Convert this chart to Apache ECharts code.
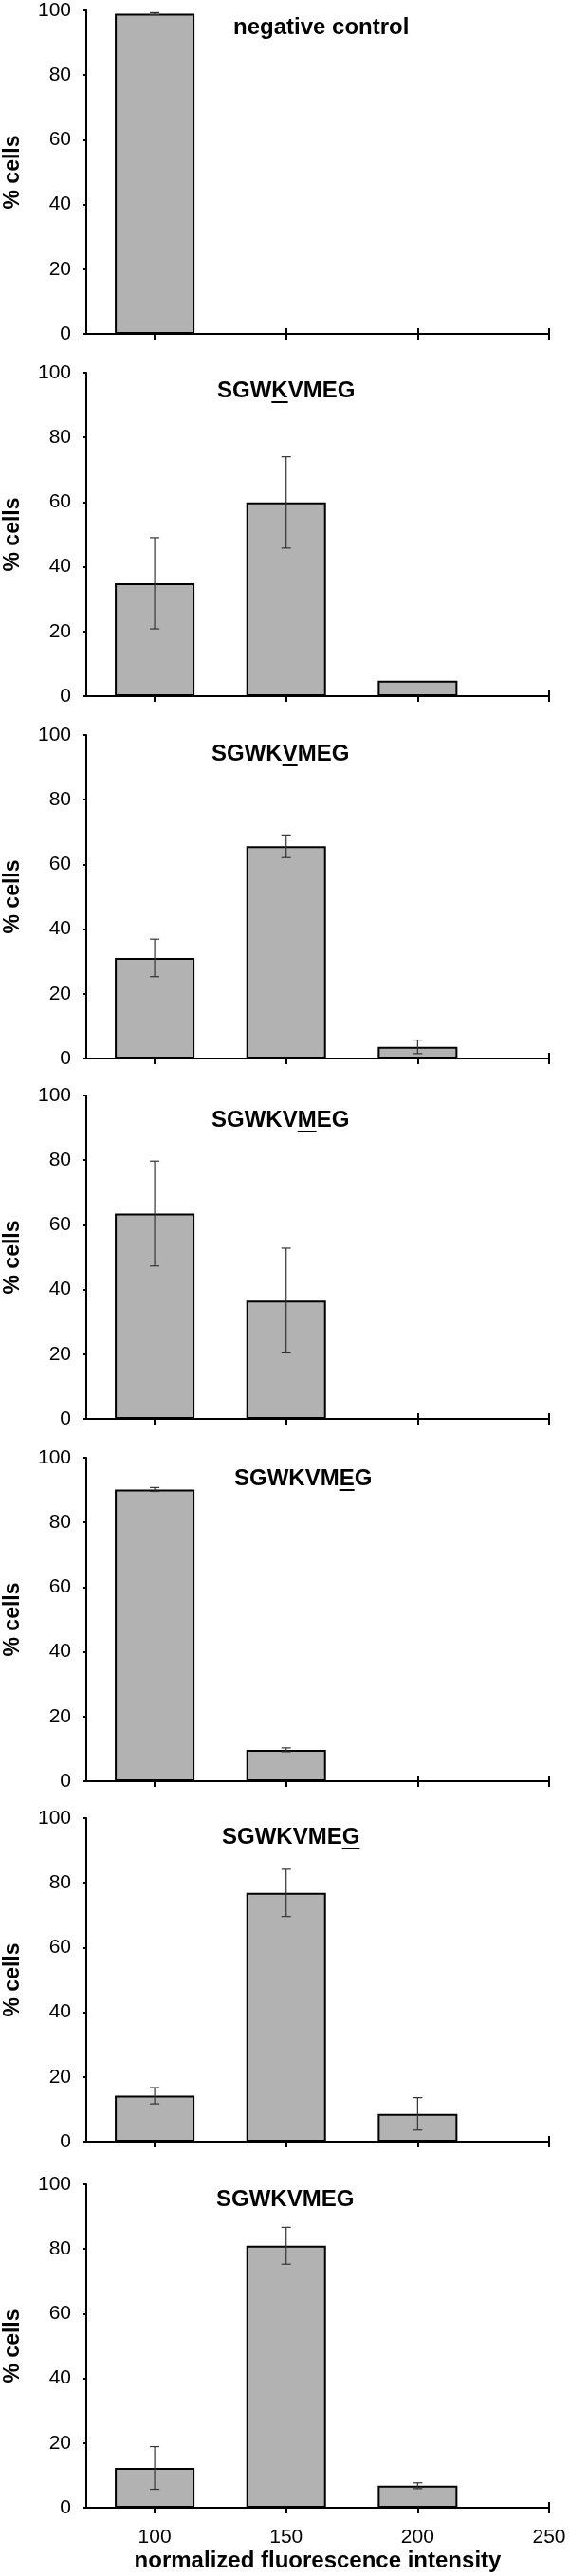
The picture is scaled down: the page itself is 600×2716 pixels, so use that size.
<!DOCTYPE html>
<html>
<head>
<meta charset="utf-8">
<script src="https://cdn.jsdelivr.net/npm/echarts@6/dist/echarts.min.js"></script>
<style>
    html, body { margin: 0; padding: 0; background: #fff; }
    #chart { width: 600px; height: 2716px; }
</style>
</head>
<body>
<div id="chart"></div>
<script>
// bins of normalized fluorescence intensity
const binCenters = [100, 150, 200]
const xTickValues = [100, 150, 200, 250]

// % cells per bin, mean and error (±)
const negativeControl = [99.0, 0, 0]
const negativeControlErr = [0.3, 0, 0]
const mutK = [34.9, 59.9, 4.8]
const mutKErr = [14.1, 14.1, 0]
const mutV = [31.1, 65.6, 3.6]
const mutVErr = [5.8, 3.5, 2.1]
const mutM = [63.5, 36.6, 0]
const mutMErr = [16.2, 16.2, 0]
const mutE = [90.2, 9.7, 0]
const mutEErr = [0.6, 0.6, 0]
const mutG = [14.2, 76.9, 8.6]
const mutGErr = [2.5, 7.3, 5.0]
const wildType = [12.3, 81.0, 6.8]
const wildTypeErr = [6.6, 5.7, 0.9]

const panelTitles = ['negative control', 'SGWKVMEG', 'SGWKVMEG', 'SGWKVMEG', 'SGWKVMEG', 'SGWKVMEG', 'SGWKVMEG']
const underlinedLetter = [-1, 3, 4, 5, 6, 7, -1]
const panelValues = [negativeControl, mutK, mutV, mutM, mutE, mutG, wildType]
const panelErrors = [negativeControlErr, mutKErr, mutVErr, mutMErr, mutEErr, mutGErr, wildTypeErr]

// layout (pixels)
const gridTops = [11, 393, 775, 1155, 1537, 1917, 2303]
const gridHeight = 341
const titleLeft = [246, 229, 223, 223, 247, 234, 228]
const titleCapTop = [20, 403, 786, 1172, 1550, 1928, 2310]

const FONT = '"Liberation Sans", Arial, sans-serif'
const chart = echarts.init(document.getElementById('chart'), null, { renderer: 'canvas' })

const measure = document.createElement('canvas').getContext('2d')
measure.font = 'bold 24px "Liberation Sans"'

const grids = [], xAxes = [], yAxes = [], series = [], graphics = []
const last = panelTitles.length - 1

panelTitles.forEach((title, i) => {
    grids.push({ left: 91, right: 21, top: gridTops[i], height: gridHeight, outerBoundsMode: 'none' })

    // main x axis (outer ticks, labels on the last panel only)
    xAxes.push({
        type: 'value', gridIndex: i, min: 74, max: 250,
        axisLine: { show: true, onZero: false, lineStyle: { color: '#000', width: 2 } },
        axisTick: { show: true, length: 6, customValues: xTickValues, lineStyle: { color: '#000', width: 2 } },
        axisLabel: {
            show: i === last, customValues: xTickValues, margin: 21,
            color: '#000', fontSize: 21, fontFamily: FONT
        },
        splitLine: { show: false },
        name: i === last ? 'normalized fluorescence intensity' : '',
        nameLocation: 'middle', nameGap: 44,
        nameTextStyle: { color: '#000', fontSize: 24, fontWeight: 'bold', fontFamily: FONT }
    })
    // second axis only for the inner half of the crossing ticks
    xAxes.push({
        type: 'value', gridIndex: i, min: 74, max: 250, position: 'bottom',
        axisLine: { show: false },
        axisTick: { show: true, inside: true, length: 6, customValues: xTickValues, lineStyle: { color: '#000', width: 2 } },
        axisLabel: { show: false },
        splitLine: { show: false }
    })

    yAxes.push({
        type: 'value', gridIndex: i, min: 0, max: 100, interval: 20,
        axisLine: { show: true, lineStyle: { color: '#000', width: 2 } },
        axisTick: { show: true, length: 4, lineStyle: { color: '#000', width: 2 } },
        axisLabel: { color: '#000', fontSize: 21, fontFamily: FONT, margin: 16 },
        splitLine: { show: false },
        name: '% cells', nameLocation: 'middle', nameRotate: 90, nameGap: 66,
        nameTextStyle: { color: '#000', fontSize: 23, fontWeight: 'bold', fontFamily: FONT }
    })

    series.push({
        type: 'bar', xAxisIndex: i * 2, yAxisIndex: i,
        barWidth: 84,
        itemStyle: { color: '#b2b2b2', borderColor: '#000', borderWidth: 2 },
        data: binCenters.map((x, j) => [x, panelValues[i][j]])
    })

    series.push({
        type: 'custom', xAxisIndex: i * 2, yAxisIndex: i, z: 5,
        encode: { x: 0, y: 1 },
        data: binCenters.map((x, j) => [x, panelValues[i][j], panelErrors[i][j]]),
        renderItem: (params, api) => {
            const x = api.value(0), y = api.value(1), e = api.value(2)
            if (!e) return
            const top = api.coord([x, y + e])
            const bot = api.coord([x, y - e])
            const style = { stroke: '#333', lineWidth: 1.2 }
            return {
                type: 'group',
                children: [
                    { type: 'line', shape: { x1: top[0], y1: top[1], x2: bot[0], y2: bot[1] }, style },
                    { type: 'line', shape: { x1: top[0] - 5, y1: top[1], x2: top[0] + 5, y2: top[1] }, style },
                    { type: 'line', shape: { x1: bot[0] - 5, y1: bot[1], x2: bot[0] + 5, y2: bot[1] }, style }
                ]
            }
        }
    })

    // panel title, with the mutated residue underlined
    graphics.push({
        type: 'text', left: titleLeft[i], top: titleCapTop[i] - 3,
        style: { text: title, fill: '#000', font: 'bold 24px ' + FONT }
    })
    const k = underlinedLetter[i]
    if (k >= 0) {
        const offset = measure.measureText(title.slice(0, k)).width
        const w = measure.measureText(title[k]).width
        graphics.push({
            type: 'rect', left: titleLeft[i] + offset, top: titleCapTop[i] + 20,
            shape: { width: w, height: 2 },
            style: { fill: '#000' }
        })
    }
})

chart.setOption({
    backgroundColor: '#fff',
    animation: false,
    grid: grids,
    xAxis: xAxes,
    yAxis: yAxes,
    series: series,
    graphic: graphics
})
</script>
</body>
</html>
